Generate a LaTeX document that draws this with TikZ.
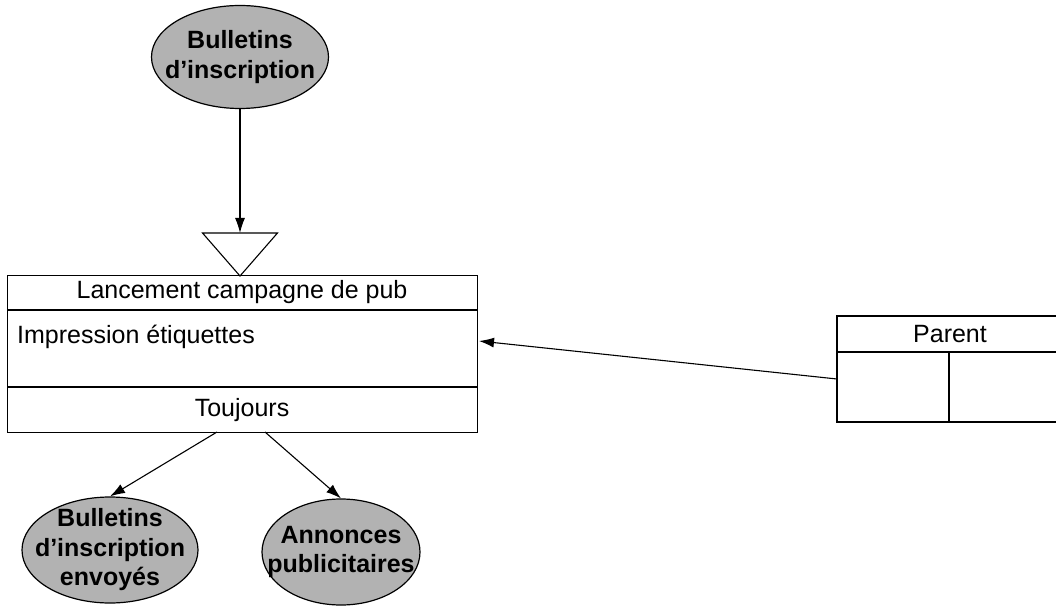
\documentclass[tikz,border=0pt]{standalone}
\usepackage{fontspec}
\setmainfont{Liberation Sans}
\usetikzlibrary{shapes.geometric,arrows.meta}
\tikzset{
  blob/.style={ellipse, draw=black, line width=1.2pt, fill=gray!60, inner sep=0pt},
  blobtext/.style={inner sep=0pt, align=center, font=\fontsize{25}{29.5}\selectfont\bfseries},
  lbl/.style={inner sep=0pt, font=\fontsize{25}{30}\selectfont},
  frame/.style={draw=black, line width=1.1pt, inner sep=0pt},
  link/.style={line width=1.1pt, -{Latex[length=15pt,width=10pt]}},
  rule/.style={line width=1.1pt}
}
\begin{document}
\begin{tikzpicture}[x=1pt,y=-1pt]
\useasboundingbox (0,0) rectangle (1056,609);
% top ellipse
\node[blob, minimum width=177pt, minimum height=103pt] (src) at (240,57) {};
\node[blobtext] (srct) at (src.center) {Bulletins\\d'inscription};
% triangle
\coordinate (tri) at (240,233);
\draw[rule] (tri) ++(-37.5,0) -- ++(75,0) -- (240,276) -- cycle;
\draw[link] (src.south) -- (tri);
% main box
\node[frame, minimum width=470pt, minimum height=157pt, anchor=north west] (box) at (7,275) {};
\draw[rule] (7,310) -- (477,310);
\draw[rule] (7,387) -- (477,387);
\node[lbl] (title) at (242,292) {Lancement campagne de pub};
\node[lbl, anchor=west] (act) at (17,337) {Impression étiquettes};
\node[lbl] (cond) at (242,410) {Toujours};
\coordinate (boxin) at (479,341);
% parent box
\coordinate (ptl) at (837,316);
\draw[rule] (1056,316) -- (837,316) -- (837,422) -- (1056,422);
\draw[rule] (837,352) -- (1056,352);
\draw[rule] (949,352) -- (949,422);
\node[lbl] (parent) at (950,334) {Parent};
\coordinate (pout) at (837,379);
\draw[link] (pout) -- (boxin);
% bottom ellipses
\node[blob, minimum width=176pt, minimum height=106pt] (sent) at (110,550) {};
\node[blobtext] (sentt) at (sent.center) {Bulletins\\d'inscription\\envoyés};
\node[blob, minimum width=158pt, minimum height=106pt] (ads) at (341,552) {};
\node[blobtext] (adst) at (ads.center) {Annonces\\publicitaires};
\coordinate (o1) at (217,432);
\coordinate (o2) at (265,432);
\draw[link] (o1) -- (sent.north);
\draw[link] (o2) -- (ads.north);
\end{tikzpicture}
\end{document}
